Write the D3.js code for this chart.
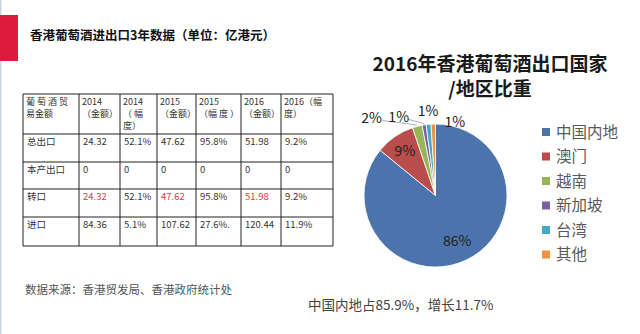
<!DOCTYPE html>
<html>
<head>
<meta charset="utf-8">
<script src="https://cdn.jsdelivr.net/npm/d3@7/dist/d3.min.js"></script>
<style>
  html, body { margin: 0; padding: 0; background: #fff; }
  svg { display: block; font-family: "Noto Sans CJK SC", "Noto Sans", sans-serif; }
</style>
</head>
<body>
<svg id="chart" width="640" height="334"></svg>
<script>
// ---- Table data: Hong Kong wine trade, 2014–2016 (unit: 100 million HKD) ----
const tableHeaders = [
  ["葡 萄 酒 贸", "易金额"],
  ["2014", "（金额）"],
  ["2014", "（  幅", "度）"],
  ["2015", "（金额）"],
  ["2015", "（幅 度 ）"],
  ["2016", "（金额）"],
  ["2016（幅", "度）"]
];
const tradeTypes = ["总出口", "本产出口", "转口", "进口"];
const amount2014 = ["24.32", "0", "24.32", "84.36"];
const growth2014 = ["52.1%", "0", "52.1%", "5.1%"];
const amount2015 = ["47.62", "0", "47.62", "107.62"];
const growth2015 = ["95.8%", "0", "95.8%", "27.6%."];
const amount2016 = ["51.98", "0", "51.98", "120.44"];
const growth2016 = ["9.2%", "0", "9.2%", "11.9%"];
const highlightRow = "转口";

// ---- Pie data: 2016 export destinations (%) ----
const regions = ["中国内地", "澳门", "越南", "新加坡", "台湾", "其他"];
const shares = [85.9, 8.9, 2.2, 0.9, 1.1, 1.0];
const shareLabels = ["86%", "9%", "2%", "1%", "1%", "1%"];

const svg = d3.select("#chart");

// page frame: faint left rule and red title tab
svg.append("rect").attr("x", 0).attr("y", 0).attr("width", 1.5).attr("height", 334).attr("fill", "#c9d2e3");
svg.append("rect").attr("x", 0).attr("y", 15).attr("width", 18).attr("height", 46).attr("fill", "#dc1b3d");
svg.append("text").attr("x", 30).attr("y", 39.5)
  .attr("font-size", 12.5).attr("font-weight", "bold").attr("fill", "#111")
  .text("香港葡萄酒进出口3年数据（单位：亿港元）");

// ---- table ----
const colEdges = [23, 79, 120, 157, 196, 241, 281, 333];
const rowEdges = [94, 134, 162, 189, 217, 246];
const columns = [tradeTypes, amount2014, growth2014, amount2015, growth2015, amount2016, growth2016];

const tbl = svg.append("g").attr("fill", "#333");
// grid lines
tbl.selectAll("line.v").data(colEdges).join("line")
  .attr("x1", d => d).attr("x2", d => d)
  .attr("y1", rowEdges[0]).attr("y2", rowEdges[rowEdges.length - 1])
  .attr("stroke", "#222").attr("stroke-width", 1);
tbl.selectAll("line.h").data(rowEdges).join("line")
  .attr("x1", colEdges[0]).attr("x2", colEdges[colEdges.length - 1])
  .attr("y1", d => d).attr("y2", d => d)
  .attr("stroke", "#222").attr("stroke-width", 1);

// header cells, one text per wrapped line
tableHeaders.forEach((lines, c) => {
  lines.forEach((ln, i) => {
    tbl.append("text")
      .attr("x", colEdges[c] + 3)
      .attr("y", rowEdges[0] + 11 + i * 12)
      .attr("font-size", 9)
      .text(ln);
  });
});

// body cells
tradeTypes.forEach((rowName, r) => {
  columns.forEach((col, c) => {
    const isRed = rowName === highlightRow && (c === 1 || c === 3 || c === 5);
    tbl.append("text")
      .attr("x", colEdges[c] + 4)
      .attr("y", rowEdges[r + 1] + 11)
      .attr("font-size", 9.5)
      .attr("fill", isRed ? "#e03a3e" : "#333")
      .text(col[r]);
  });
});

// source note
svg.append("text").attr("x", 25).attr("y", 294)
  .attr("font-size", 11.5).attr("fill", "#555")
  .text("数据来源：香港贸发局、香港政府统计处");

// ---- pie chart ----
const colors = ["#4a74ab", "#b94d4b", "#96b555", "#7b60a0", "#45a9c4", "#f09241"];
const cx = 435.5, cy = 195.5, radius = 71.5;

svg.append("text").attr("x", 490).attr("y", 71)
  .attr("text-anchor", "middle").attr("font-size", 19).attr("font-weight", "bold").attr("fill", "#1a1a1a")
  .text("2016年香港葡萄酒出口国家");
svg.append("text").attr("x", 490).attr("y", 96)
  .attr("text-anchor", "middle").attr("font-size", 19).attr("font-weight", "bold").attr("fill", "#1a1a1a")
  .text("/地区比重");

const pie = d3.pie().sort(null).value(d => d)(shares);
const arc = d3.arc().innerRadius(0).outerRadius(radius);
const g = svg.append("g").attr("transform", `translate(${cx},${cy})`);

g.selectAll("path").data(pie).join("path")
  .attr("d", arc)
  .attr("fill", (d, i) => colors[i])
  .attr("stroke", "#fff").attr("stroke-width", 0.8);

// label placement: inside for large slices, fanned outside for the thin ones
const labelAngleShift = [0, 0, -25, -16, 0.6, 16.5];   // degrees
const labelRadius = [0.71, 0.75, 1.4, 1.21, 1.19, 1.06];
const labelPos = pie.map((d, i) => {
  const a = (d.startAngle + d.endAngle) / 2 + labelAngleShift[i] * Math.PI / 180;
  const r = radius * labelRadius[i];
  return [Math.sin(a) * r, -Math.cos(a) * r];
});

// leader lines for the green and purple slices
[2, 3].forEach(i => {
  const d = pie[i];
  const a = (d.startAngle + d.endAngle) / 2;
  const end = [Math.sin(a) * radius * 1.02, -Math.cos(a) * radius * 1.02];
  g.append("line")
    .attr("x1", labelPos[i][0] + (i === 2 ? 11 : 9)).attr("y1", labelPos[i][1] + 2)
    .attr("x2", end[0]).attr("y2", end[1])
    .attr("stroke", "#8c8c8c").attr("stroke-width", 0.7);
});

g.selectAll("text.lbl").data(pie).join("text")
  .attr("class", "lbl")
  .attr("x", (d, i) => labelPos[i][0])
  .attr("y", (d, i) => labelPos[i][1])
  .attr("dy", "0.35em")
  .attr("text-anchor", "middle")
  .attr("font-size", 14).attr("fill", "#222")
  .text((d, i) => shareLabels[i]);

// legend
const legend = svg.append("g").attr("transform", "translate(542,132)");
const item = legend.selectAll("g").data(regions).join("g")
  .attr("transform", (d, i) => `translate(0,${i * 24.5})`);
item.append("rect").attr("x", 0).attr("y", -4).attr("width", 8).attr("height", 8)
  .attr("fill", (d, i) => colors[i]);
item.append("text").attr("x", 14).attr("y", 0).attr("dy", "0.36em")
  .attr("font-size", 15.5).attr("fill", "#595959").text(d => d);

// closing note under the pie
svg.append("text").attr("x", 308).attr("y", 310)
  .attr("font-size", 13.5).attr("fill", "#444")
  .text("中国内地占85.9%，增长11.7%");
</script>
</body>
</html>
